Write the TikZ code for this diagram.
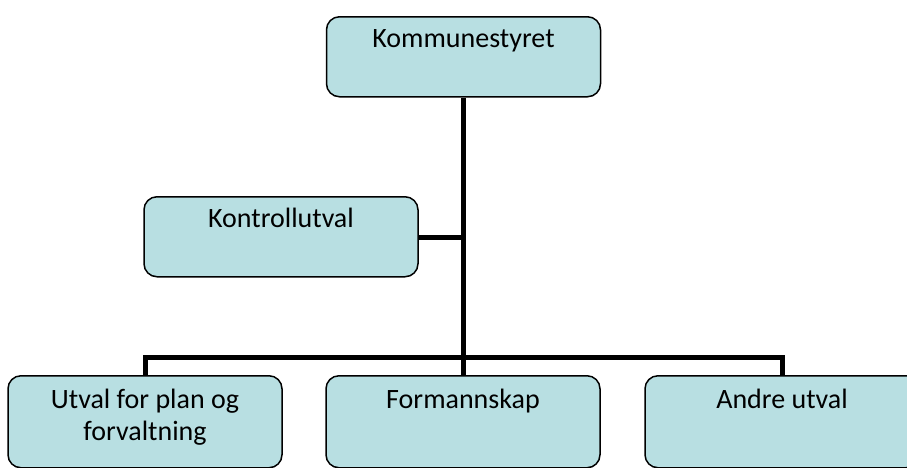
\documentclass[tikz,border=0pt]{standalone}
\usepackage{fontspec}
\setmainfont{Carlito}
\usetikzlibrary{calc}
\definecolor{boxfill}{RGB}{184,223,226}
\tikzset{
  orgbox/.style={draw=black, line width=1.5pt, fill=boxfill, rounded corners=13pt,
    minimum width=274pt, minimum height=80pt, inner sep=0pt, anchor=north},
  tallbox/.style={orgbox, minimum height=92pt},
  boxtext/.style={anchor=base, inner sep=0pt, font=\fontsize{28}{32}\selectfont, align=center},
  conn/.style={draw=black, line width=5pt}
}
\begin{document}
\begin{tikzpicture}[x=1pt,y=-1pt]
\useasboundingbox (0,0) rectangle (907,467);
\node[orgbox] (ks) at (463.5,16) {};
\node[orgbox] (ku) at (281,196) {};
\node[tallbox] (up) at (145,375) {};
\node[tallbox] (fs) at (463,375) {};
\node[tallbox] (au) at (782,375) {};
\node[boxtext] (tks) at ($(ks.north)+(0,31)$) {Kommunestyret};
\node[boxtext] (tku) at ($(ku.north)+(0,31)$) {Kontrollutval};
\node[boxtext] (tup) at ($(up.north)+(0,65)$) {Utval for plan og\\forvaltning};
\node[boxtext] (tfs) at ($(fs.north)+(0,33)$) {Formannskap};
\node[boxtext] (tau) at ($(au.north)+(0,33)$) {Andre utval};
\coordinate (bus) at (463,357);
\coordinate (kj) at (463,237);
\draw[conn] (ks.south -| bus) -- (bus);
\draw[conn] (ku.east |- kj) -- (kj);
\draw[conn] (up.north) |- (bus) -| (au.north);
\draw[conn] (bus) -- (fs.north);
\end{tikzpicture}
\end{document}
